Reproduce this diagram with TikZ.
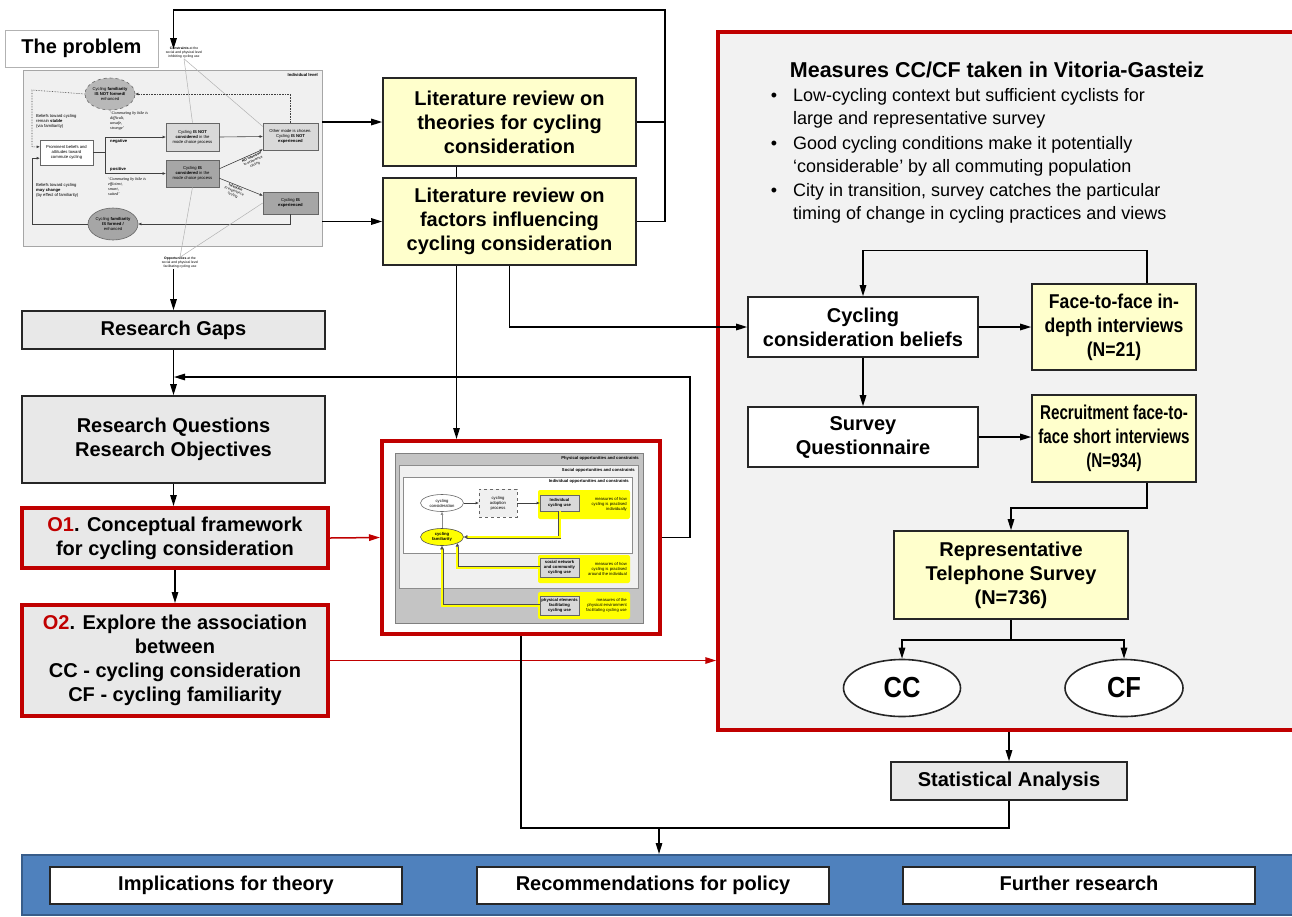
\documentclass[tikz,border=0pt]{standalone}
\usepackage{fontspec}
\setmainfont{Liberation Sans}
\newfontfamily\quotefont{Liberation Serif}
\newfontfamily\condfont{Liberation Sans}[FakeStretch=0.88]
\newfontfamily\tightfont{Liberation Sans}[FakeStretch=0.76]
\usetikzlibrary{arrows.meta,shapes.geometric,calc}

\definecolor{frred}{HTML}{C00000}
\definecolor{boxgray}{HTML}{E8E8E8}
\definecolor{litfill}{HTML}{FFFFCC}
\definecolor{measfill}{HTML}{F2F2F2}
\definecolor{barblue}{HTML}{4F81BD}
\definecolor{barline}{HTML}{385D8A}
\definecolor{panelgray}{HTML}{F0F0F0}
\definecolor{pglight}{HTML}{D9D9D9}
\definecolor{pgdark}{HTML}{A6A6A6}
\definecolor{pgouter}{HTML}{C4C4C4}
\definecolor{hiyellow}{HTML}{FFFF00}

\newcommand\boxfont{\fontsize{20}{24}\selectfont\bfseries}
\newcommand\listfont{\fontsize{18}{23}\selectfont}
\newcommand\minifont{\fontsize{4.2}{5}\selectfont}
\newcommand\microfont{\fontsize{3.4}{4}\selectfont}

\begin{document}
\begin{tikzpicture}[x=1pt,y=-1pt,
  mainbox/.style={draw=black!85, line width=1.6pt, align=center, font=\boxfont, inner sep=2pt},
  graybox/.style={mainbox, fill=boxgray},
  litbox/.style={mainbox, fill=litfill},
  whitebox/.style={mainbox, fill=white},
  objbox/.style={graybox, draw=frred, line width=4pt},
  outbox/.style={whitebox, line width=1.3pt, minimum width=352pt, minimum height=37pt, text height=14.5pt, text depth=4pt},
  arr/.style={line width=1.4pt, draw=black, -{Triangle[length=11pt,width=6.5pt]}},
  redarr/.style={line width=1.5pt, draw=frred, -{Triangle[length=11pt,width=6.5pt]}},
  link/.style={line width=1.4pt, draw=black},
  mbox/.style={draw=black!60, line width=0.6pt, align=center, font=\minifont, inner sep=0.5pt},
  mell/.style={ellipse, mbox, inner sep=0pt},
  mline/.style={line width=0.6pt, draw=black!75, -{Triangle[length=3pt,width=2.4pt]}},
  mfaint/.style={line width=0.5pt, draw=black!30},
  mlabel/.style={font=\minifont, inner sep=0pt},
  yline/.style={draw=black!70, line width=0.5pt, double=hiyellow, double distance=2pt, -{Triangle[length=3.5pt,width=3.5pt]}},
]
\useasboundingbox (0,0) rectangle (1292,916);
\fill[white] (0,0) rectangle (1292,916);

% ---------- the problem: individual level diagram ----------
\node[draw=black!35, fill=panelgray, line width=0.8pt, minimum width=299pt, minimum height=176pt] (prob) at (172.5,158) {};
\node[mlabel, anchor=north east, font=\minifont\bfseries] at (318,73) {Individual level};

\node[mell, dashed, fill=pglight!85!black, minimum width=50pt, minimum height=32pt] (e1) at (110,94)
  {Cycling \textbf{familiarity}\\\textbf{IS NOT formed/}\\enhanced};
\node[mbox, fill=white, minimum width=53pt, minimum height=25pt] (p1) at (66.5,152.5)
  {Prominent beliefs and\\attitudes toward\\commute cycling};
\node[mbox, fill=pglight, minimum width=53pt, minimum height=28pt] (n1) at (192.5,137)
  {Cycling \textbf{IS NOT}\\\textbf{considered} in the\\mode choice process};
\node[mbox, fill=pglight, minimum width=55pt, minimum height=27pt] (om) at (290.5,136.5)
  {Other mode is chosen.\\Cycling \textbf{IS NOT}\\\textbf{experienced}};
\node[mbox, fill=pgdark, minimum width=53pt, minimum height=27pt] (c1) at (192.5,173.5)
  {Cycling \textbf{IS}\\\textbf{considered} in the\\mode choice process};
\node[mbox, fill=pgdark, minimum width=55pt, minimum height=22pt] (ex) at (290.5,203)
  {Cycling \textbf{IS}\\\textbf{experienced}};
\node[mell, fill=pgdark, minimum width=50pt, minimum height=32pt] (e2) at (113,224)
  {Cycling \textbf{familiarity}\\\textbf{IS formed /}\\enhanced};

\node[mlabel, anchor=north west, align=left] at (36,114) {Beliefs toward cycling\\remain \textbf{stable}\\(via familiarity)};
\node[mlabel, anchor=north west, align=left, font=\minifont\quotefont\itshape] at (110,111) {‘Commuting by bike is\\difficult,\\unsafe,\\strange’};
\node[mlabel, anchor=west, font=\minifont\bfseries] at (110,141) {negative};
\node[mlabel, anchor=west, font=\minifont\bfseries] at (110,169) {positive};
\node[mlabel, anchor=north west, align=left, font=\minifont\quotefont\itshape] at (108,177) {‘Commuting by bike is\\efficient,\\smart,\\suited’};
\node[mlabel, anchor=north west, align=left] at (36,183) {Beliefs toward cycling\\\textbf{may change}\\(by effect of familiarity)};

\draw[mline] (p1.east) -- ++(12,0) |- (n1.west);
\draw[mline] (p1.east) -- ++(12,0) |- (c1.west);
\draw[mline] (n1.east) -- (om.west);
\draw[mline] (c1.10) -- (om.205)
  node[pos=0.72, sloped, below=0.8pt, inner sep=0pt, font=\microfont, align=center] {\textbf{NO intention}\\to experience\\cycling};
\draw[mline] (c1.-10) -- (ex.165)
  node[pos=0.4, sloped, below=0.8pt, inner sep=0pt, font=\microfont, align=center] {\textbf{Intention}\\to experience\\cycling};
\draw[mline] (ex.south) |- (e2.east);
\draw[mline] (e2.west) -- (32,224) |- (p1.192);
\draw[mline, densely dotted] (om.north) |- (e1.east);
\draw[mline, densely dotted] (e1.west) -- (32,90) |- (p1.168);

\node[mlabel, align=center, font=\microfont] (constr) at (184,53) {\textbf{Constraints} at the\\social and physical level\\inhibiting cycling use};
\node[mlabel, align=center, font=\microfont] (opp) at (180,263) {\textbf{Opportunities} at the\\social and physical level\\facilitating cycling use};
\draw[mfaint] (constr.south) -- (n1.north);
\draw[mfaint] (constr.south) -- (om.160);
\draw[mfaint] (opp.north) -- (c1.south);
\draw[mfaint] (opp.north) -- (ex.west);

\node[draw=black!30, fill=white, line width=0.8pt, minimum width=153pt, minimum height=37pt, font=\boxfont] (tp) at (81.5,48.5) {The problem};

% ---------- left column ----------
\node[graybox, minimum width=303pt, minimum height=38pt] (rg) at (173.5,330) {Research Gaps};
\node[graybox, minimum width=303pt, minimum height=87pt] (rq) at (173.5,439.5) {Research Questions\\Research Objectives};
\node[objbox, minimum width=306pt, minimum height=60pt] (o1) at (175,538) {{\color{frred}O1}. Conceptual framework\\for cycling consideration};
\node[objbox, minimum width=306pt, minimum height=111pt] (o2) at (175,660.5) {{\color{frred}O2}. Explore the association\\between\\CC - cycling consideration\\CF - cycling familiarity};

% ---------- literature reviews ----------
\node[litbox, minimum width=253pt, minimum height=88pt] (lt) at (509.5,122) {Literature review on\\theories for cycling\\consideration};
\node[litbox, minimum width=253pt, minimum height=87pt] (lf) at (509.5,221.5) {Literature review on\\factors influencing\\cycling consideration};

% ---------- conceptual framework ----------
\node[draw=frred, line width=4pt, fill=white, minimum width=278pt, minimum height=193pt] (fw) at (521,537.5) {};
\node[draw=black!50, fill=pgouter, line width=0.6pt, minimum width=248pt, minimum height=170pt] (phys) at (519,538) {};
\node[mlabel, anchor=north east, font=\minifont\bfseries] at (639,456) {Physical opportunities and constraints};
\node[draw=black!45, fill=panelgray, line width=0.6pt, minimum width=239pt, minimum height=123pt] (soc) at (518.5,526.5) {};
\node[mlabel, anchor=north east, font=\minifont\bfseries] at (635,468) {Social opportunities and constraints};
\node[draw=black!45, fill=white, line width=0.6pt, minimum width=229pt, minimum height=76pt] (ind) at (517.5,515) {};
\node[mlabel, anchor=north east, font=\minifont\bfseries] at (629,479) {Individual opportunities and constraints};

\fill[hiyellow, rounded corners=2pt] (538,490) rectangle (630,519);
\fill[hiyellow, rounded corners=2pt] (538,555) rectangle (630,583);
\fill[hiyellow, rounded corners=2pt] (538,592) rectangle (630,619);
\node[mlabel, anchor=east, align=right] at (627,504) {measures of how\\cycling is practised\\individually};
\node[mlabel, anchor=east, align=right] at (627,569) {measures of how\\cycling is practised\\around the individual};
\node[mlabel, anchor=east, align=right] at (627,605.5) {measures of the\\physical environment\\facilitating cycling use};

\node[mbox, fill=pglight, minimum width=39pt, minimum height=16pt] (iu) at (559.5,503) {\textbf{Individual}\\\textbf{cycling use}};
\node[mbox, fill=pglight, minimum width=39pt, minimum height=19pt] (sn) at (559.5,567.5) {\textbf{social network}\\\textbf{and community}\\\textbf{cycling use}};
\node[mbox, fill=pglight, minimum width=39pt, minimum height=19pt] (pe) at (559.5,605.5) {\textbf{physical elements}\\\textbf{facilitating}\\\textbf{cycling use}};
\node[mell, fill=white, minimum width=43pt, minimum height=17pt] (cons) at (442,503) {cycling\\consideration};
\node[mbox, dashed, fill=panelgray, minimum width=38pt, minimum height=28pt] (ap) at (498,503) {cycling\\adoption\\process};
\node[mell, fill=hiyellow, draw=black!70, minimum width=43pt, minimum height=17pt] (fam) at (442,537) {\textbf{cycling}\\\textbf{familiarity}};

\draw[mline] (cons.east) -- (ap.west);
\draw[mline] (ap.east) -- (iu.west);
\draw[mline, draw=black!45] (fam.north) -- (cons.south);
\draw[yline] (iu.south) |- (fam.east);
\draw[yline] (sn.west) -| (fam.south east);
\draw[yline] (pe.west) -| (fam.south);

% ---------- measures in Vitoria-Gasteiz ----------
\node[draw=frred, line width=3.5pt, fill=measfill, minimum width=582pt, minimum height=698pt] (meas) at (1009,381) {};
\node[anchor=base, inner sep=0pt, font=\fontsize{21.5}{25}\selectfont\bfseries] (mtitle) at (997,77) {Measures CC/CF taken in Vitoria-Gasteiz};
\foreach \yy in {101,149,196} \node[anchor=base, inner sep=0pt, font=\listfont] at (774,\yy) {\textbullet};
\node[anchor=base west, inner sep=0pt, font=\listfont] at (793,101) {Low-cycling context but sufficient cyclists for};
\node[anchor=base west, inner sep=0pt, font=\listfont] at (793,124) {large and representative survey};
\node[anchor=base west, inner sep=0pt, font=\listfont] at (793,149) {Good cycling conditions make it potentially};
\node[anchor=base west, inner sep=0pt, font=\listfont] at (793,172) {‘considerable’ by all commuting population};
\node[anchor=base west, inner sep=0pt, font=\listfont] at (793,196) {City in transition, survey catches the particular};
\node[anchor=base west, inner sep=0pt, font=\listfont] at (793,219) {timing of change in cycling practices and views};

\node[whitebox, minimum width=230pt, minimum height=60pt] (ccb) at (863,327) {Cycling\\consideration beliefs};
\node[litbox, minimum width=164pt, minimum height=86pt, font=\fontsize{20}{24}\selectfont\condfont\bfseries] (f2f) at (1114,327) {Face-to-face in-\\depth interviews\\(N=21)};
\node[whitebox, minimum width=230pt, minimum height=60pt] (sq) at (863,437) {Survey\\Questionnaire};
\node[litbox, minimum width=164pt, minimum height=87pt, font=\fontsize{20}{24}\selectfont\tightfont\bfseries] (rec) at (1114,438.5) {Recruitment face-to-\\face short interviews\\(N=934)};
\node[litbox, minimum width=234pt, minimum height=88pt] (tel) at (1011,575) {Representative\\Telephone Survey\\(N=736)};
\node[ellipse, draw=black!85, line width=1.6pt, fill=white, minimum width=117pt, minimum height=57pt, font=\fontsize{29}{30}\selectfont\condfont\bfseries] (cc) at (902,688) {CC};
\node[ellipse, draw=black!85, line width=1.6pt, fill=white, minimum width=118pt, minimum height=57pt, font=\fontsize{29}{30}\selectfont\condfont\bfseries] (cf) at (1124,688) {CF};
\node[graybox, minimum width=236pt, minimum height=38pt] (sa) at (1009,781) {Statistical Analysis};

% ---------- outcomes ----------
\node[draw=barline, line width=2pt, fill=barblue, minimum width=1274pt, minimum height=60pt] (bar) at (659,885) {};
\node[outbox] (b1) at (226,885.5) {Implications for theory};
\node[outbox] (b2) at (653,885.5) {Recommendations for policy};
\node[outbox] (b3) at (1079,885.5) {Further research};

% ---------- connectors ----------
\coordinate (topR) at (665,10);
\coordinate (fb) at (174,377);
\coordinate (join) at (659,828);

\draw[arr] (prob.east |- lt.west) -- (lt.west);
\draw[arr] (prob.east |- lf.west) -- (lf.west);
\draw[link] (lt.east) -- (lt.east -| topR);
\draw[arr] (lf.east) -- (lf.east -| topR) -- (topR) -- (topR -| rg.north) -- ([yshift=-2pt]rg.north |- constr.north);

\draw[arr] (rg.north |- opp.south) -- (rg.north);
\draw[arr] (rg.south) -- (rq.north);
\draw[arr] (rq.south) -- (rq.south |- o1.north);
\draw[arr] (o1.south) -- (o2.north);

\coordinate (lts) at ($(lt.south)+(-53,0)$);
\coordinate (lfs) at ($(lf.south)+(-53,0)$);
\draw[link] (lts) -- (lts |- lf.north);
\draw[arr] (lfs) -- (lfs |- fw.north);
\draw[arr] (lf.south) |- (ccb.west);

\draw[redarr] (o1.east) -- (fw.west);
\draw[redarr] (o2.east) -- (o2.east -| meas.west);
\draw[arr] (fw.east) -- ++(28,0) |- (fb);

\draw[arr] ($(f2f.north)+(33,0)$) -- ++(0,-33) -| (ccb.north);
\draw[arr] (ccb.east) -- (f2f.west);
\draw[arr] (ccb.south) -- (sq.north);
\draw[arr] (sq.east) -- (sq.east -| rec.west);
\draw[arr] ($(rec.south)+(33,0)$) -- ++(0,25) -| (tel.north);
\draw[link] (tel.south) -- ++(0,20) coordinate (tb);
\draw[arr] (tb) -| (cc.north);
\draw[arr] (tb) -| (cf.north);
\draw[arr] (meas.south -| sa.north) -- (sa.north);

\draw[link] (fw.south) |- (sa.south |- join) -- (sa.south);
\draw[arr] (join) -- (bar.north);
\end{tikzpicture}
\end{document}
